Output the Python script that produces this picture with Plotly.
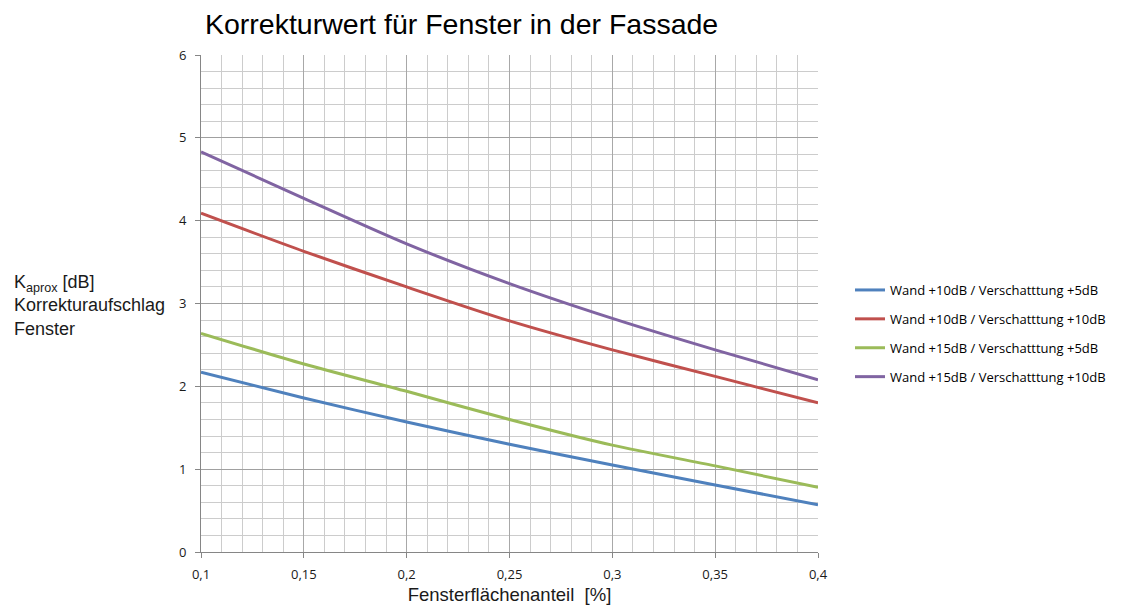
import plotly.graph_objects as go

x_vals = [0.10, 0.15, 0.20, 0.25, 0.30, 0.35, 0.40]
wand10_vers5 = [2.17, 1.86, 1.57, 1.30, 1.05, 0.81, 0.57]
wand10_vers10 = [4.09, 3.63, 3.20, 2.79, 2.44, 2.12, 1.80]
wand15_vers5 = [2.64, 2.27, 1.94, 1.60, 1.29, 1.04, 0.78]
wand15_vers10 = [4.83, 4.27, 3.72, 3.24, 2.82, 2.44, 2.08]

series_names = [
    "Wand +10dB / Verschatttung +5dB",
    "Wand +10dB / Verschatttung +10dB",
    "Wand +15dB / Verschatttung +5dB",
    "Wand +15dB / Verschatttung +10dB",
]
series_values = [wand10_vers5, wand10_vers10, wand15_vers5, wand15_vers10]
series_colors = ["#4F81BD", "#C0504D", "#9BBB59", "#8064A2"]

x_tickvals = [0.1, 0.15, 0.2, 0.25, 0.3, 0.35, 0.4]
x_ticktext = ["0,1", "0,15", "0,2", "0,25", "0,3", "0,35", "0,4"]
y_tickvals = [0, 1, 2, 3, 4, 5, 6]

fig = go.Figure()
for i, (name, vals, col) in enumerate(zip(series_names, series_values, series_colors)):
    fig.add_trace(go.Scatter(
        x=x_vals, y=vals, name=name, mode="lines",
        line=dict(color=col, width=3, shape="spline", smoothing=0.8),
        legendgroup=f"g{i}",
    ))

# page body has an 8px margin; figure is sized to fit inside it
W, H = 1108, 597
OFF = 8
L, R, T, B = 201 - OFF, 818 - OFF, 55 - OFF, 552 - OFF

axis_color = "#868686"
fig.update_layout(
    width=W, height=H,
    margin=dict(l=L, r=W - R, t=T, b=H - B, autoexpand=False),
    paper_bgcolor="white", plot_bgcolor="white",
    separators=",.",
    title=dict(
        text="Korrekturwert für Fenster in der Fassade",
        x=(205 - OFF) / W, xanchor="left", y=1 - (24 - OFF) / H, yanchor="middle",
        font=dict(family="Liberation Sans, Arial", size=28.5, color="#000000"),
    ),
    font=dict(family="Open Sans, Liberation Sans", size=13, color="#1a1a1a"),
    showlegend=True,
    legend=dict(
        x=(850 - 201) / 617, xanchor="left", y=(552 - 275) / 497, yanchor="top",
        font=dict(family="Open Sans, Liberation Sans", size=13, color="#000000"),
        tracegroupgap=9, bgcolor="rgba(0,0,0,0)",
    ),
    xaxis=dict(
        range=[0.1, 0.4], tickvals=x_tickvals, ticktext=x_ticktext,
        showgrid=True, gridcolor="#a8a8a8", gridwidth=1,
        minor=dict(dtick=0.01, tick0=0.1, showgrid=True, gridcolor="#cccccc", gridwidth=1),
        showline=True, linecolor=axis_color, linewidth=1,
        ticks="outside", ticklen=5, tickcolor=axis_color,
        ticklabelstandoff=5, automargin=False,
        zeroline=False,
        tickfont=dict(family="Open Sans, Liberation Sans", size=13, color="#1a1a1a"),
        title=dict(text="Fensterflächenanteil  [%]", standoff=12,
                   font=dict(family="Liberation Sans, Arial", size=18.5, color="#1a1a1a")),
    ),
    yaxis=dict(
        range=[0, 6], tickvals=y_tickvals,
        showgrid=True, gridcolor="#a0a0a0", gridwidth=1,
        minor=dict(dtick=0.2, tick0=0, showgrid=True, gridcolor="#cccccc", gridwidth=1),
        showline=True, linecolor=axis_color, linewidth=1,
        ticks="outside", ticklen=5, tickcolor=axis_color,
        ticklabelstandoff=6, automargin=False,
        zeroline=False,
        tickfont=dict(family="Open Sans, Liberation Sans", size=13, color="#1a1a1a"),
    ),
)

fig.add_annotation(
    xref="paper", yref="paper",
    x=-189 / 617, xanchor="left", y=(552 - 305) / 497, yanchor="middle",
    text="K<sub>aprox</sub> [dB]<br>Korrekturaufschlag<br>Fenster",
    showarrow=False, align="left",
    font=dict(family="Liberation Sans, Arial", size=18, color="#1a1a1a"),
)

fig.write_html("out.html")
